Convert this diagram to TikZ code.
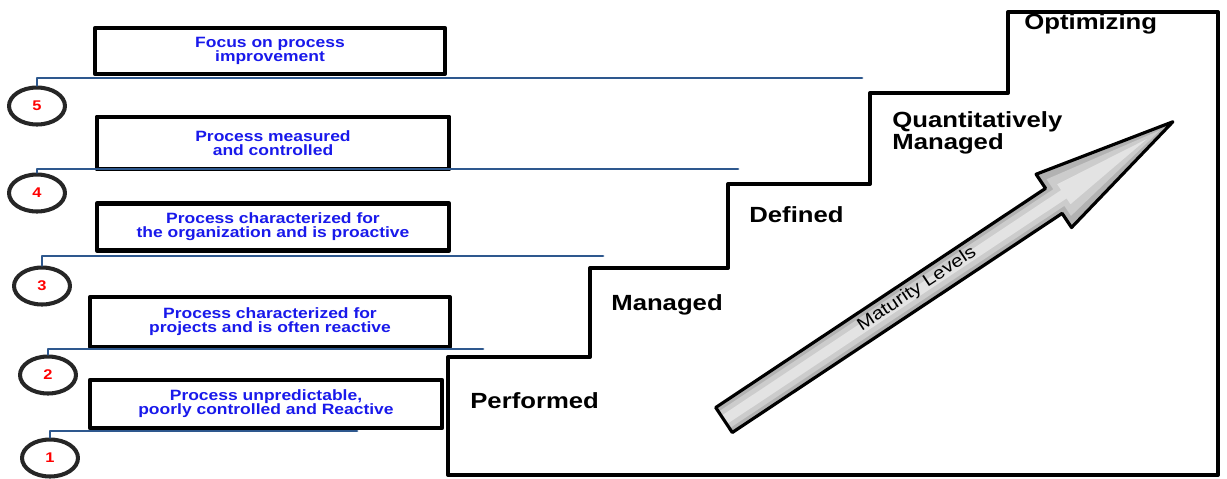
\documentclass[tikz,border=0pt]{standalone}
\usepackage{fontspec}
\setmainfont[FakeStretch=1.17]{Liberation Sans}
\usetikzlibrary{shapes.geometric}
\definecolor{lineblue}{RGB}{46,88,142}
\definecolor{textblue}{RGB}{25,25,235}
\begin{document}
\begin{tikzpicture}[line cap=round,line join=round,x=0.02cm,y=-0.02cm,
  levelbox/.style={draw=black,line width=2.4pt,fill=white,align=center,inner sep=0pt,text=textblue,font=\bfseries\fontsize{8.5}{8}\selectfont},
  levelnum/.style={ellipse,draw=black!85,line width=2.3pt,minimum width=1.12cm,minimum height=0.74cm,inner sep=0pt,text=red,font=\bfseries\fontsize{8}{8}\selectfont},
  levelline/.style={draw=lineblue,line width=1.6pt},
  stagelabel/.style={anchor=west,inner sep=0pt,align=left,font=\bfseries\fontsize{12.5}{11.4}\selectfont}]
\useasboundingbox (0,0) rectangle (1227,478);
% staircase
\draw[line width=2.3pt] (448,475) -- (448,357) -- (590,357) -- (590,268) -- (728,268) -- (728,184) -- (870,184) -- (870,93) -- (1008,93) -- (1008,12) -- (1218,12) -- (1218,475) -- cycle;
\node[stagelabel] (performed) at (470,401) {Performed};
\node[stagelabel] (managed) at (611,305) {Managed};
\node[stagelabel] (defined) at (749,215) {Defined};
\node[stagelabel,anchor=north west] (quant) at (892,111) {Quantitatively\\Managed};
\node[stagelabel] (optimizing) at (1024,24) {Optimizing};
% maturity arrow
\begin{scope}[shift={(724,420)},rotate=33.6]
\fill[gray!60] (0,-15) -- (396,-15) -- (396,-32) -- (539,0) -- (396,32) -- (396,15) -- (0,15) -- cycle;
\fill[gray!40] (0,-10) -- (402,-10) -- (402,-22) -- (524,0) -- (402,22) -- (402,10) -- (0,10) -- cycle;
\fill[gray!22] (0,-5) -- (408,-5) -- (408,-12) -- (508,0) -- (408,12) -- (408,5) -- (0,5) -- cycle;
\draw[line width=1.8pt] (0,-15) -- (396,-15) -- (396,-32) -- (539,0) -- (396,32) -- (396,15) -- (0,15) -- cycle;
\end{scope}
\node[rotate=33.6,font=\fontsize{10}{10}\selectfont] (maturity) at (917,289) {Maturity Levels};
% descriptions
\node[levelbox,minimum width=7.0cm,minimum height=0.92cm] (b5) at (270,51) {Focus on process\\improvement};
\node[levelbox,minimum width=7.05cm,minimum height=1.05cm] (b4) at (273,143) {Process measured\\and controlled};
\node[levelbox,minimum width=7.05cm,minimum height=0.94cm] (b3) at (273,227) {Process characterized for\\the organization and is proactive};
\node[levelbox,minimum width=7.2cm,minimum height=1.0cm] (b2) at (270,322) {Process characterized for\\projects and is often reactive};
\node[levelbox,minimum width=7.05cm,minimum height=0.96cm] (b1) at (266,404) {Process unpredictable,\\poorly controlled and Reactive};
% level numbers
\foreach \n/\cx/\cy/\ex/\ey in {5/37/106/862/78,4/37/193/738/169,3/42/286/603/256,2/48/375/483/349,1/50/458/357/431}
{
\node[levelnum] (n\n) at (\cx,\cy) {\n};
\coordinate (e\n) at (\ex,\ey);
\draw[levelline] (n\n.north) |- (e\n);
}
\end{tikzpicture}
\end{document}
